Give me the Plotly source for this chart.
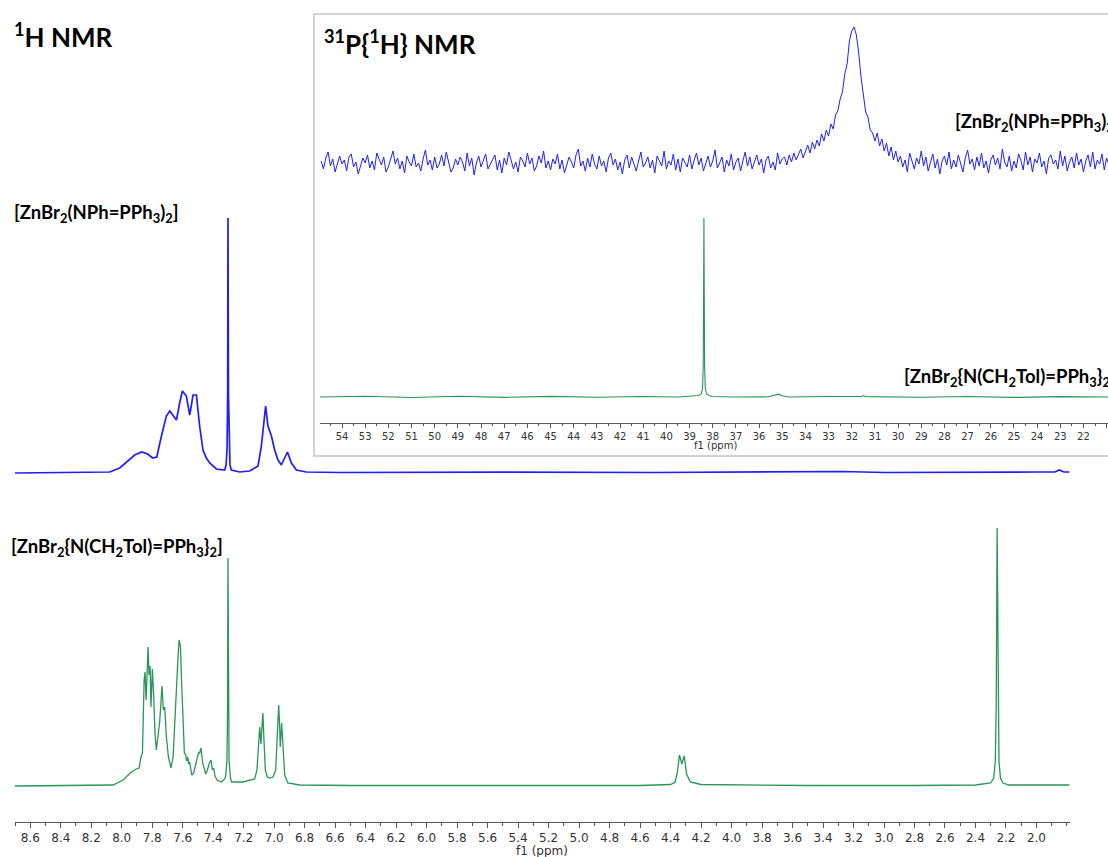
import plotly.graph_objects as go

W, H = 1108, 857

# ---------------- data ----------------
# 1H NMR of [ZnBr2(NPh=PPh3)2]  (ppm, intensity)
H1_BLUE = [
    (8.70, 0), (8.30, 0.5), (8.079, 1), (8.013, 5), (7.961, 12), (7.915, 18), (7.869, 21),
    (7.830, 19), (7.797, 15), (7.770, 16), (7.738, 38), (7.707, 57), (7.685, 62), (7.641, 53),
    (7.620, 70), (7.602, 82), (7.576, 77), (7.554, 58), (7.532, 78), (7.510, 78), (7.489, 47),
    (7.467, 23), (7.445, 15), (7.423, 10), (7.379, 4), (7.325, 3), (7.315, 8), (7.309, 25),
    (7.305, 80), (7.303, 255), (7.300, 80), (7.296, 25), (7.290, 8), (7.281, 3), (7.226, 1),
    (7.161, 2), (7.106, 7), (7.084, 27), (7.069, 50), (7.056, 67), (7.041, 47), (7.018, 37),
    (6.997, 23), (6.975, 13), (6.953, 8), (6.931, 15), (6.913, 21), (6.887, 10), (6.854, 3),
    (6.789, 1), (6.570, 0.5), (5.50, 0.8), (4.50, 0.5), (3.27, 1.5), (3.00, 0.5), (2.00, 1),
    (1.88, 1), (1.85, 3), (1.82, 1), (1.784, 1),
]

# 1H NMR of [ZnBr2{N(CH2Tol)=PPh3}2]
H1_GREEN = [
    (8.70, 0), (8.40, 0.3), (8.20, 0.6), (8.057, 1), (7.991, 6), (7.937, 14), (7.904, 17),
    (7.886, 18), (7.875, 28), (7.864, 33), (7.853, 106), (7.847, 114), (7.840, 86), (7.832, 136),
    (7.827, 139), (7.821, 111), (7.814, 120), (7.808, 79), (7.799, 117), (7.790, 89), (7.782, 53),
    (7.773, 36), (7.762, 53), (7.751, 64), (7.736, 100), (7.727, 76), (7.718, 79), (7.707, 49),
    (7.694, 29), (7.677, 18), (7.663, 29), (7.650, 73), (7.637, 119), (7.631, 128), (7.624, 146),
    (7.615, 140), (7.607, 103), (7.598, 59), (7.589, 33), (7.580, 31), (7.574, 25), (7.567, 29),
    (7.561, 22), (7.554, 24), (7.541, 11), (7.528, 13), (7.510, 26), (7.497, 33), (7.489, 33),
    (7.480, 38), (7.469, 23), (7.458, 16), (7.449, 12), (7.438, 16), (7.427, 22), (7.414, 26),
    (7.405, 16), (7.397, 18), (7.388, 10), (7.375, 6), (7.346, 4), (7.325, 7), (7.318, 10),
    (7.310, 25), (7.306, 70), (7.303, 228), (7.300, 70), (7.296, 25), (7.288, 10), (7.281, 4),
    (7.205, 4), (7.128, 7), (7.113, 16), (7.102, 46), (7.095, 59), (7.087, 42), (7.078, 66),
    (7.074, 73), (7.067, 46), (7.058, 16), (7.045, 9), (7.030, 8), (7.008, 9), (6.990, 16),
    (6.979, 53), (6.970, 81), (6.964, 59), (6.960, 39), (6.951, 63), (6.942, 33), (6.931, 11),
    (6.910, 3), (6.833, 1), (6.50, 0.5), (5.50, 0.3), (4.60, 0.5), (4.40, 1.5), (4.37, 4),
    (4.355, 14), (4.342, 31), (4.326, 22), (4.310, 30), (4.295, 12), (4.27, 4), (4.20, 1.5),
    (3.50, 0.5), (2.80, 0.5), (2.40, 1), (2.30, 3), (2.28, 8), (2.27, 25), (2.264, 80),
    (2.258, 258), (2.252, 80), (2.246, 25), (2.236, 8), (2.22, 3), (2.18, 1), (2.00, 1),
    (1.784, 1),
]

# 31P{1H} NMR of [ZnBr2(NPh=PPh3)2]: one value every 0.1 ppm starting at 54.9 ppm
P31_BLUE_START = 54.9
P31_BLUE_STEP = -0.1
P31_BLUE = [
    2, -6, 5, 11, -3, 4, -9, -2, 7, -1, 3, -8, 6, 9, -4, 1, -11, -3, 5, 0,
    8, -5, 2, -7, 10, 4, -2, 6, -9, -4, 3, 12, -1, 5, -6, 2, -10, 7, 1, -3,
    9, -4, 0, -8, 4, 13, -2, 3, -7, 6, -5, -1, 8, -3, 11, 2, -9, -5, 4, -2,
    6, 1, -8, 10, -3, 5, -12, 0, 7, -4, 2, 9, -6, -1, 4, 8, -7, 3, -10, 5,
    -2, 11, 3, -6, 1, -9, 6, 2, -4, 10, -1, 5, -8, -3, 7, 0, 12, -5, 2, -7,
    4, -1, 9, -6, 3, -10, -2, 6, 1, -5, 8, 14, -3, 2, -8, 5, -4, 9, -1, -6,
    7, -3, 2, -9, 5, 10, -2, 4, -7, 1, -11, 3, 8, -5, 6, -1, -8, 2, 11, -4,
    0, 6, -5, 3, -10, 7, 1, -3, 12, -6, 2, -2, 9, -7, 4, -9, 5, 1, -4, 8,
    -6, 3, 10, -2, 5, -8, -1, 7, -4, 2, 13, -5, 0, 6, -9, 3, -3, 9, -7, 1,
    5, -8, 2, 11, -3, 6, -6, 0, 8, -2, 4, -10, 3, 7, -5, 1, -7, 10, -1, 4,
    6, -2, 8, 1, 10, 3, 9, 14, 5, 12,
    18, 10, 21, 14, 23, 17, 29, 22, 33, 27,
    39, 34, 48, 52, 64, 71, 89, 99, 122, 132,
    136, 128, 110, 86, 68, 51, 46, 33, 30, 22,
    30, 17, 24, 12, 20, 7, 16, 3, 12, 1,
    7, -4, 3, -9, 10, 2, -6, 5, -1, 12,
    -3, 6, -8, 1, 9, -5, 4, -11, 2, 7,
    -2, 11, -6, 3, -4, 8, 0, -9, 5, 13,
    -1, 4, -7, 6, -3, 10, -5, 2, -10, 3,
    8, -2, 5, -6, 14, 1, -4, 7, -8, 2,
    -5, 9, 3, -7, 11, -2, 6, -9, 4, 0,
    10, -4, 2, -11, 5, 8, -1, 3, -6, 12,
    -3, 7, -8, 1, 6, -5, 10, -2, 4, -9,
    2, 8, -4, 11, -6, 3, -1, 9, -7, 5,
    -2,
]

# 31P{1H} NMR of [ZnBr2{N(CH2Tol)=PPh3}2]
P31_GREEN = [
    (54.95, 0), (53.0, 0.8), (51.0, -0.5), (49.0, 0.7), (47.0, -0.4), (45.0, 0.6), (43.0, -0.3),
    (41.0, 0.5), (39.5, 0), (38.9, 0.8), (38.6, 1.5), (38.5, 3), (38.44, 8), (38.41, 30),
    (38.38, 179), (38.35, 30), (38.32, 8), (38.26, 3), (38.15, 1.5), (38.0, 0.5), (37.0, 0),
    (35.6, 0.2), (35.3, 1.5), (35.15, 2.8), (35.0, 1.2), (34.7, 0), (33.0, 0.5), (31.6, 0.5),
    (31.5, 1.5), (31.4, 0.4), (29.0, -0.3), (27.0, 0.5), (25.0, -0.4), (23.0, 0.4), (20.94, 0),
]

MAIN_TICKS = [8.6, 8.4, 8.2, 8.0, 7.8, 7.6, 7.4, 7.2, 7.0, 6.8, 6.6, 6.4, 6.2, 6.0, 5.8, 5.6, 5.4,
              5.2, 5.0, 4.8, 4.6, 4.4, 4.2, 4.0, 3.8, 3.6, 3.4, 3.2, 3.0, 2.8, 2.6, 2.4, 2.2, 2.0]
MAIN_TICK_TEXT = ["8.6", "8.4", "8.2", "8.0", "7.8", "7.6", "7.4", "7.2", "7.0", "6.8", "6.6", "6.4",
                  "6.2", "6.0", "5.8", "5.6", "5.4", "5.2", "5.0", "4.8", "4.6", "4.4", "4.2", "4.0",
                  "3.8", "3.6", "3.4", "3.2", "3.0", "2.8", "2.6", "2.4", "2.2", "2.0"]
INSET_TICKS = [54, 53, 52, 51, 50, 49, 48, 47, 46, 45, 44, 43, 42, 41, 40, 39, 38, 37, 36, 35, 34,
               33, 32, 31, 30, 29, 28, 27, 26, 25, 24, 23, 22, 21]

LABEL_NPH = "<b>[ZnBr<sub>2</sub>(NPh=PPh<sub>3</sub>)<sub>2</sub>]</b>"
LABEL_TOL = "<b>[ZnBr<sub>2</sub>{N(CH<sub>2</sub>Tol)=PPh<sub>3</sub>}<sub>2</sub>]</b>"

# ---------------- layout constants (pixels) ----------------
MAIN_AXIS_Y = 822
INSET_AXIS_Y = 423
GREEN_BASE = MAIN_AXIS_Y - 786
BLUE_BASE = MAIN_AXIS_Y - 473
P31_BLUE_BASE = INSET_AXIS_Y - 163
P31_GREEN_BASE = INSET_AXIS_Y - 397

BLUE = "#1f1ff5"
GREEN = "#2a9558"


def px(x):
    return x / W


def py(y):
    return 1 - y / H


fig = go.Figure()

fig.add_trace(go.Scatter(x=[p for p, _ in H1_BLUE], y=[v + BLUE_BASE for _, v in H1_BLUE],
                         mode="lines", line=dict(color=BLUE, width=1.7), xaxis="x", yaxis="y",
                         hoverinfo="skip", showlegend=False))
fig.add_trace(go.Scatter(x=[p for p, _ in H1_GREEN], y=[v + GREEN_BASE for _, v in H1_GREEN],
                         mode="lines", line=dict(color=GREEN, width=1.3), xaxis="x", yaxis="y",
                         hoverinfo="skip", showlegend=False))

p31_x = [P31_BLUE_START + i * P31_BLUE_STEP for i in range(len(P31_BLUE))]
fig.add_trace(go.Scatter(x=p31_x, y=[v + P31_BLUE_BASE for v in P31_BLUE],
                         mode="lines", line=dict(color=BLUE, width=1.0), xaxis="x2", yaxis="y2",
                         hoverinfo="skip", showlegend=False))
fig.add_trace(go.Scatter(x=[p for p, _ in P31_GREEN], y=[v + P31_GREEN_BASE for _, v in P31_GREEN],
                         mode="lines", line=dict(color=GREEN, width=1.1), xaxis="x2", yaxis="y2",
                         hoverinfo="skip", showlegend=False))

axis_common = dict(showline=True, linecolor="#555555", linewidth=1, ticks="outside",
                   tickcolor="#555555", tickwidth=1, showgrid=False, zeroline=False,
                   tickmode="array", fixedrange=True)

fig.update_layout(
    width=W, height=H,
    margin=dict(l=0, r=0, t=0, b=0),
    paper_bgcolor="white", plot_bgcolor="rgba(0,0,0,0)",
    xaxis=dict(domain=[px(15), px(1070)], range=[8.70, 1.78], anchor="y",
               tickvals=MAIN_TICKS, ticktext=MAIN_TICK_TEXT, ticklen=5,
               tickfont=dict(family="DejaVu Sans", size=12, color="#333333"),
               minor=dict(tickmode="linear", tick0=0, dtick=0.1, ticks="outside", ticklen=3,
                          tickcolor="#555555", showgrid=False),
               **axis_common),
    yaxis=dict(domain=[1 - MAIN_AXIS_Y / H, 1], range=[0, MAIN_AXIS_Y], visible=False,
               fixedrange=True),
    xaxis2=dict(domain=[px(320), 1.0], range=[54.95, 20.94], anchor="y2",
                tickvals=INSET_TICKS, ticktext=[str(t) for t in INSET_TICKS], ticklen=4,
                tickfont=dict(family="DejaVu Sans", size=10, color="#333333"),
                minor=dict(tickmode="linear", tick0=0, dtick=0.5, ticks="outside", ticklen=2,
                           tickcolor="#555555", showgrid=False),
                **axis_common),
    yaxis2=dict(domain=[1 - INSET_AXIS_Y / H, 1 - 14 / H], range=[0, INSET_AXIS_Y - 14],
                visible=False, fixedrange=True),
    shapes=[dict(type="rect", xref="paper", yref="paper", x0=px(314), x1=px(1125),
                 y0=py(456), y1=py(14), line=dict(color="#d2d2d2", width=2),
                 fillcolor="rgba(0,0,0,0)", layer="below")],
)

title_font = dict(family="Lato", size=26, color="black")
label_font = dict(family="Lato", size=18.5, color="black")
ann = [
    dict(text="<b><sup>1</sup>H NMR</b>", x=px(12), y=py(35), font=title_font),
    dict(text="<b><sup>31</sup>P{<sup>1</sup>H} NMR</b>", x=px(322), y=py(42), font=title_font),
    dict(text=LABEL_NPH, x=px(12), y=py(213), font=label_font),
    dict(text=LABEL_TOL, x=px(9), y=py(547), font=label_font),
    dict(text=LABEL_NPH, x=px(953), y=py(123), font=label_font),
    dict(text=LABEL_TOL, x=px(902), y=py(377), font=label_font),
    dict(text="f1 (ppm)", x=px(542), y=py(851), xanchor="center",
         font=dict(family="DejaVu Sans", size=12, color="#333333")),
    dict(text="f1 (ppm)", x=px(715), y=py(445), xanchor="center",
         font=dict(family="DejaVu Sans", size=10, color="#333333")),
]
for a in ann:
    a.setdefault("xanchor", "left")
    fig.add_annotation(xref="paper", yref="paper", yanchor="middle", showarrow=False, **a)

fig.write_html("out.html")
